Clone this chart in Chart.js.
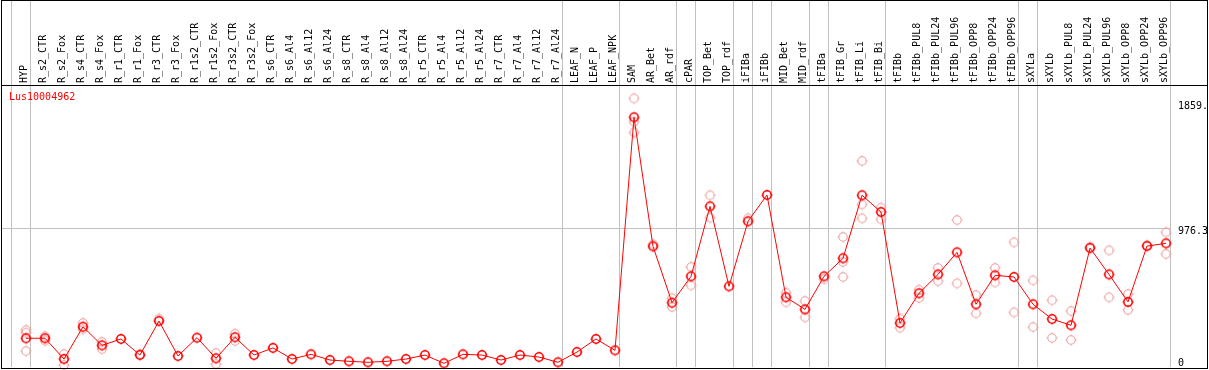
<!DOCTYPE html>
<html>
<head>
<meta charset="utf-8">
<script src="https://cdn.jsdelivr.net/npm/chart.js@4/dist/chart.umd.min.js"></script>
<style>
  html, body { margin: 0; padding: 0; background: #fff; }
  #wrap { position: relative; width: 1209px; height: 370px; }
  #myChart { position: absolute; left: 0; top: 0; }
  #frame { position: absolute; left: 1px; top: 0; width: 1207px; height: 369px; border: 1px solid #000; box-sizing: border-box; }
  #sep { position: absolute; left: 1px; top: 85px; width: 1207px; height: 1px; background: #000; }
  #gene { position: absolute; left: 9px; top: 91px; font: 10px 'DejaVu Sans Mono', monospace; line-height: 12px; color: #ff0000; }
</style>
</head>
<body>
<div id="wrap">
  <canvas id="myChart" width="1209" height="370"></canvas>
  <div id="sep"></div>
  <div id="frame"></div>
  <div id="gene">Lus10004962</div>
</div>
<script>
const categories = [
  'HYP', 'R_s2_CTR', 'R_s2_Fox', 'R_s4_CTR', 'R_s4_Fox', 'R_r1_CTR', 'R_r1_Fox', 'R_r3_CTR', 'R_r3_Fox',
  'R_r1s2_CTR', 'R_r1s2_Fox', 'R_r3s2_CTR', 'R_r3s2_Fox', 'R_s6_CTR', 'R_s6_Al4', 'R_s6_Al12', 'R_s6_Al24',
  'R_s8_CTR', 'R_s8_Al4', 'R_s8_Al12', 'R_s8_Al24', 'R_r5_CTR', 'R_r5_Al4', 'R_r5_Al12', 'R_r5_Al24',
  'R_r7_CTR', 'R_r7_Al4', 'R_r7_Al12', 'R_r7_Al24', 'LEAF_N', 'LEAF_P', 'LEAF_NPK', 'SAM', 'AR_Bet', 'AR_rdf',
  'cPAR', 'TOP_Bet', 'TOP_rdf', 'iFIBa', 'iFIBb', 'MID_Bet', 'MID_rdf', 'tFIBa', 'tFIB_Gr', 'tFIB_Li', 'tFIB_Bi',
  'tFIBb', 'tFIBb_PUL8', 'tFIBb_PUL24', 'tFIBb_PUL96', 'tFIBb_OPP8', 'tFIBb_OPP24', 'tFIBb_OPP96',
  'sXYLa', 'sXYLb', 'sXYLb_PUL8', 'sXYLb_PUL24', 'sXYLb_PUL96', 'sXYLb_OPP8', 'sXYLb_OPP24', 'sXYLb_OPP96'
];

// mean expression per sample
const meanValues = [
  202, 202, 56, 283, 152, 197, 84, 323, 77, 206,
  61, 209, 84, 134, 56, 89, 49, 40, 33, 40,
  56, 84, 26, 89, 84, 49, 84, 70, 33, 105,
  197, 117, 1755, 848, 452, 637, 1129, 567, 1024, 1209,
  490, 405, 637, 764, 1207, 1089, 309, 518, 651, 806,
  441, 644, 633, 441, 337, 293, 836, 651, 457, 850,
  869
];

// replicates (pale circles)
const repHigh = [
  260, 216, 91, 309, 176, null, 92, 340, null, null,
  98, 234, null, null, null, null, null, null, null, null,
  null, null, null, null, null, null, null, null, null, null,
  null, null, 1888, 862, 483, 703, 1207, null, 1045, null,
  522, 464, null, 914, 1448, 1120, 340, 543, 696, 1033,
  506, 696, 876, 609, 469, 394, 846, 820, 513, 857,
  947
];
const repLow = [
  112, 185, 14, 265, 126, null, null, null, null, null,
  21, 183, null, null, null, null, null, null, null, null,
  null, null, null, null, null, null, null, null, null, null,
  null, null, 1724, null, 422, 574, 1049, null, null, null,
  455, 349, 618, 738, 1143, 1038, 276, 485, 604, 588,
  377, 595, 384, 281, 204, 190, null, 490, 401, null,
  794
];
const repExtra = [
  241, null, null, null, null, null, null, null, null, null,
  null, null, null, null, null, null, null, null, null, null,
  null, null, null, null, null, null, null, null, null, null,
  null, null, 1649, null, null, null, null, null, null, null,
  null, null, null, 633, 1045, null, null, null, null, null,
  null, null, null, null, null, null, null, null, null, null,
  null
];

// sample groups end after these indices (grey separators)
const groupEnds = [-1, 0, 28, 31, 34, 35, 37, 38, 39, 41, 42, 45, 52, 53, 60];

const yTicks = [0, 976.3, 1859];
const yTickLabels = ['0', '976.3', '1859.'];

const GREY = '#c0c0c0';
const NONE = 'rgba(0,0,0,0)';
const monoFont = { family: "'DejaVu Sans Mono', monospace", size: 10 };

// little circle with tiny ticks, like the original markers
function makeMarker(color, width) {
  const c = document.createElement('canvas');
  c.width = 16;
  c.height = 16;
  const g = c.getContext('2d');
  g.strokeStyle = color;
  g.lineWidth = width;
  g.beginPath();
  g.arc(8, 8, 4.2, 0, Math.PI * 2);
  g.stroke();
  g.lineWidth = 1;
  g.beginPath();
  g.moveTo(8, 2.5); g.lineTo(8, 3.5);
  g.moveTo(8, 12.5); g.lineTo(8, 13.5);
  g.moveTo(2.5, 8); g.lineTo(3.5, 8);
  g.moveTo(12.5, 8); g.lineTo(13.5, 8);
  g.stroke();
  return c;
}

const mainMarker = makeMarker('#ff0000', 1.6);
const repMarker = makeMarker('#ef9a9a', 1.1);

const toPoints = (arr) => arr.map((v, i) => ({ x: i, y: v })).filter(p => p.y !== null);

const boundaryTicks = groupEnds.map(g => g + 0.24);

const ctx = document.getElementById('myChart').getContext('2d');

const myChart = new Chart(ctx, {
  type: 'line',
  data: {
    datasets: [
      {
        label: 'mean',
        data: toPoints(meanValues),
        borderColor: '#ff0000',
        borderWidth: 1,
        pointStyle: mainMarker,
        pointRadius: 5,
        tension: 0,
        clip: false
      },
      {
        label: 'rep1',
        data: toPoints(repHigh),
        showLine: false,
        pointStyle: repMarker,
        pointRadius: 5,
        clip: false
      },
      {
        label: 'rep2',
        data: toPoints(repLow),
        showLine: false,
        pointStyle: repMarker,
        pointRadius: 5,
        clip: false
      },
      {
        label: 'rep3',
        data: toPoints(repExtra),
        showLine: false,
        pointStyle: repMarker,
        pointRadius: 5,
        clip: false
      }
    ]
  },
  options: {
    responsive: false,
    animation: false,
    events: [],
    layout: { autoPadding: false, padding: { left: 2, right: 0, top: 0, bottom: 3 } },
    plugins: {
      legend: { display: false },
      tooltip: { enabled: false }
    },
    scales: {
      x: {
        type: 'linear',
        position: 'top',
        min: -1.263,
        max: 60.263,
        afterBuildTicks: (axis) => {
          const vals = categories.map((c, i) => i).concat(boundaryTicks).sort((a, b) => a - b);
          axis.ticks = vals.map(v => ({ value: v }));
        },
        afterFit: (s) => {
          s.height = 86;
          s.paddingLeft = 0;
          s.paddingRight = 0;
        },
        border: { display: false },
        grid: {
          color: (c) => (c.tick && !Number.isInteger(c.tick.value)) ? GREY : NONE,
          tickColor: (c) => (c.tick && !Number.isInteger(c.tick.value)) ? GREY : NONE,
          lineWidth: 1,
          drawTicks: true,
          tickLength: 86
        },
        ticks: {
          autoSkip: false,
          minRotation: 90,
          maxRotation: 90,
          padding: -83,
          labelOffset: 10,
          color: '#000',
          font: monoFont,
          callback: (v) => Number.isInteger(v) ? categories[v] : ''
        }
      },
      y: {
        type: 'linear',
        position: 'right',
        min: 0,
        max: 1975,
        afterBuildTicks: (axis) => {
          axis.ticks = yTicks.map(v => ({ value: v }));
        },
        afterFit: (s) => {
          s.width = 38;
          s.paddingTop = 0;
          s.paddingBottom = 0;
        },
        border: { display: false },
        grid: {
          color: (c) => (c.tick && c.tick.value === 976.3) ? GREY : NONE,
          lineWidth: 1,
          drawTicks: false
        },
        ticks: {
          padding: 7,
          color: '#000',
          font: { family: "'DejaVu Sans Mono', monospace", size: 10, lineHeight: '7px' },
          callback: (v) => {
            const k = yTicks.indexOf(v);
            return v === 0 ? [yTickLabels[k], ''] : ['', yTickLabels[k]];
          }
        }
      }
    }
  }
});
</script>
</body>
</html>
